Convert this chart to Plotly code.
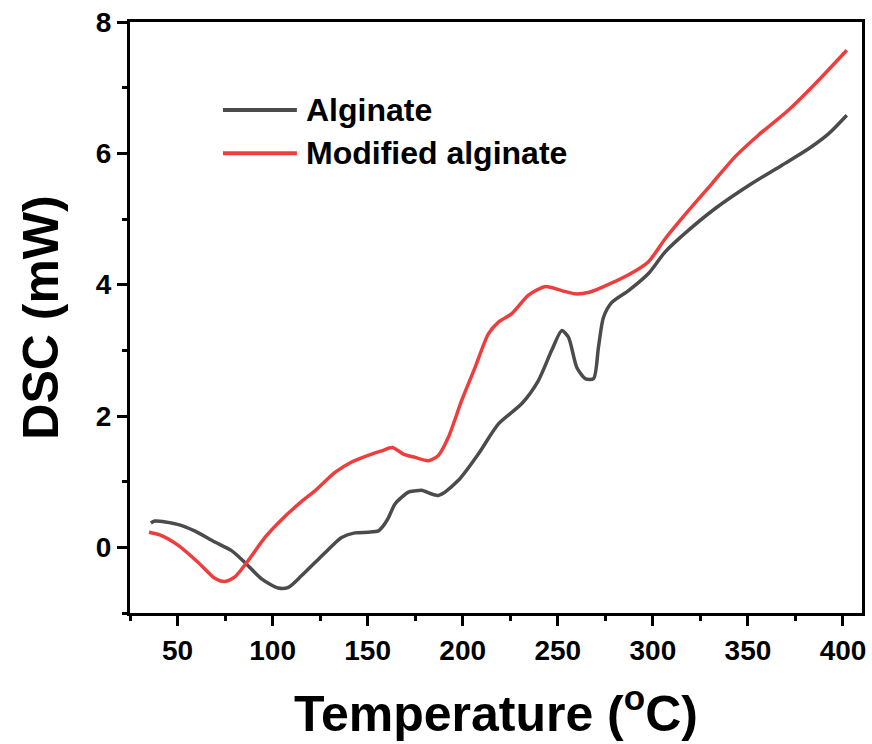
import plotly.graph_objects as go

# ---- data ----
alg_x = [36, 38, 50, 59, 69.6, 78.4, 85.4, 94.2, 103, 108.3, 115.3, 124.1, 128, 133, 136.3,
         143.3, 150.4, 155.6, 158, 160.9, 164.4, 171.4, 175, 178.4, 187.2, 197.7, 208.2,
         218.8, 231.1, 239.8, 246.8, 252.1, 255.6, 260, 264.4, 268.8, 271.4, 274, 278.4,
         287.2, 297.7, 306.5, 318.8, 332.8, 350.4, 367.9, 381.9, 392.5, 402]
alg_y = [0.37, 0.40, 0.35, 0.25, 0.08, -0.05, -0.23, -0.48, -0.62, -0.61, -0.43, -0.18, -0.07,
         0.07, 0.15, 0.22, 0.23, 0.25, 0.32, 0.45, 0.66, 0.84, 0.86, 0.87, 0.79, 1.02, 1.42,
         1.88, 2.19, 2.54, 3.0, 3.30, 3.2, 2.74, 2.57, 2.57, 3.05, 3.5, 3.73,
         3.91, 4.17, 4.50, 4.83, 5.16, 5.51, 5.82, 6.07, 6.30, 6.58]

mod_x = [35, 41.6, 50.4, 60.9, 69.6, 74.9, 80.2, 87.2, 96, 104.7, 115.3, 122.3, 132.8, 141.6,
         152.1, 157.4, 163, 168.8, 174.9, 181.9, 187.2, 192.5, 199.5, 206.5, 213.5, 218.8,
         225.8, 234.6, 243.3, 252.1, 259.1, 266, 273.2, 287.2, 297.7, 306.5, 318.8, 331.1,
         343.3, 355.6, 371.4, 385.4, 402]
mod_y = [0.23, 0.18, 0.03, -0.23, -0.47, -0.52, -0.45, -0.20, 0.15, 0.42, 0.70, 0.86, 1.14, 1.30,
         1.42, 1.47, 1.52, 1.42, 1.37, 1.32, 1.40, 1.68, 2.24, 2.74, 3.25, 3.43,
         3.56, 3.84, 3.97, 3.91, 3.86, 3.88, 3.96, 4.15, 4.35, 4.70, 5.13, 5.54,
         5.95, 6.28, 6.66, 7.06, 7.57]

series_names = ["Alginate", "Modified alginate"]
series_colors = ["#4b4b4b", "#ef3d3d"]
x_tick_vals = [50, 100, 150, 200, 250, 300, 350, 400]
y_tick_vals = [0, 2, 4, 6, 8]

FONT = "Liberation Sans, Arial, sans-serif"

fig = go.Figure()
for name, color, xs, ys in zip(series_names, series_colors, [alg_x, mod_x], [alg_y, mod_y]):
    fig.add_trace(go.Scatter(x=xs, y=ys, mode="lines", name=name, showlegend=False,
                             line=dict(color=color, width=3.5, shape="spline", smoothing=0.7)))

# manual legend (long line samples like the reference)
leg_y = [0.851, 0.778]
for name, color, yy in zip(series_names, series_colors, leg_y):
    fig.add_shape(type="line", xref="paper", yref="paper", x0=0.127, x1=0.228, y0=yy, y1=yy,
                  line=dict(color=color, width=4))
    fig.add_annotation(xref="paper", yref="paper", x=0.238, y=yy, text="<b>%s</b>" % name,
                       showarrow=False, xanchor="left", yanchor="middle",
                       font=dict(family=FONT, size=32, color="black"))

axis_common = dict(showline=True, linecolor="black", linewidth=3, mirror=True,
                   ticks="outside", ticklen=10, tickwidth=3, tickcolor="black",
                   showgrid=False, zeroline=False, automargin=False,
                   tickfont=dict(family=FONT, size=28, color="black", weight="bold"))

fig.update_xaxes(range=[25, 410], tickvals=x_tick_vals,
                 minor=dict(dtick=25, tick0=25, ticks="outside", ticklen=5, tickwidth=3,
                            tickcolor="black", showgrid=False),
                 title=dict(text="<b>Temperature (<sup>o</sup>C)</b>",
                            font=dict(family=FONT, size=50, color="black"), standoff=32),
                 **axis_common)
fig.update_yaxes(range=[-1, 8], tickvals=y_tick_vals,
                 minor=dict(dtick=1, tick0=-1, ticks="outside", ticklen=5, tickwidth=3,
                            tickcolor="black", showgrid=False),
                 title=dict(text="<b>DSC (mW)</b>",
                            font=dict(family=FONT, size=50, color="black"), standoff=22),
                 **axis_common)

fig.update_layout(width=872, height=744, plot_bgcolor="white", paper_bgcolor="white",
                  margin=dict(l=130, r=10, t=22, b=131), showlegend=False)

fig.write_html("out.html", config={"displayModeBar": False},
               post_script="document.body.style.margin='0';document.body.style.overflow='hidden';")
